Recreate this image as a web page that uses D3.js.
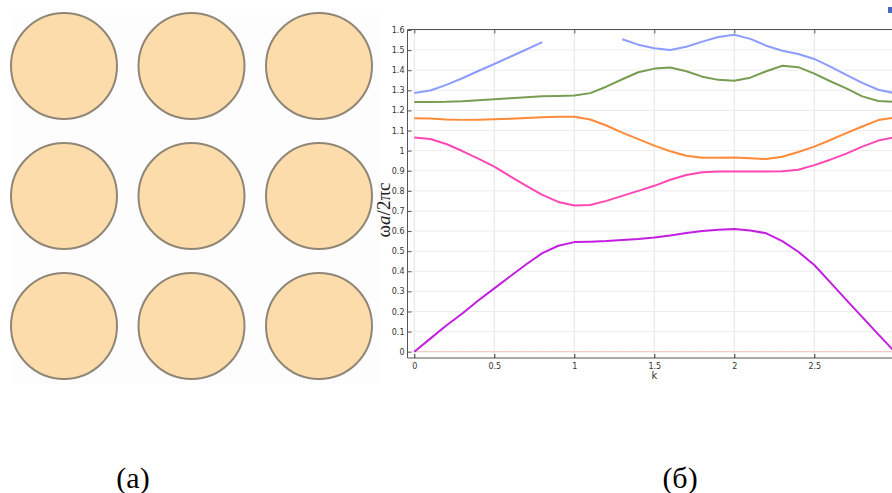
<!DOCTYPE html>
<html>
<head>
<meta charset="utf-8">
<script src="https://cdn.jsdelivr.net/npm/d3@7"></script>
<style>
  body { margin: 0; background: #fff; }
  svg { display: block; }
</style>
</head>
<body>
<svg id="fig" width="892" height="493"></svg>
<script>
// panel (a): 3x3 lattice of rods
let rodCols = [0, 1, 2]
let rodRows = [0, 1, 2]

// panel (б): band diagram, k from 0 to 3 step 0.1
let kValues = d3.range(0, 31).map(i => +(i / 10).toFixed(1))
let band1 = [0, 0.065, 0.13, 0.19, 0.255, 0.315, 0.375, 0.435, 0.49, 0.527, 0.545, 0.547, 0.55, 0.555, 0.56, 0.568, 0.578, 0.59, 0.6, 0.607, 0.61, 0.603, 0.589, 0.55, 0.497, 0.431, 0.345, 0.258, 0.172, 0.086, 0.002]
let band2 = [1.065, 1.058, 1.033, 0.998, 0.96, 0.92, 0.872, 0.825, 0.78, 0.745, 0.727, 0.73, 0.75, 0.775, 0.8, 0.825, 0.855, 0.879, 0.893, 0.896, 0.896, 0.896, 0.896, 0.897, 0.905, 0.928, 0.955, 0.985, 1.02, 1.05, 1.067]
let band3 = [1.161, 1.16, 1.155, 1.153, 1.154, 1.156, 1.159, 1.162, 1.166, 1.168, 1.169, 1.155, 1.125, 1.09, 1.057, 1.025, 0.997, 0.975, 0.965, 0.965, 0.966, 0.962, 0.958, 0.97, 0.993, 1.02, 1.053, 1.087, 1.12, 1.152, 1.164]
let band4 = [1.242, 1.242, 1.243, 1.246, 1.251, 1.256, 1.261, 1.266, 1.27, 1.272, 1.274, 1.286, 1.318, 1.355, 1.39, 1.408, 1.413, 1.395, 1.368, 1.352, 1.348, 1.363, 1.395, 1.422, 1.415, 1.383, 1.345, 1.31, 1.27, 1.247, 1.242]
let band5 = [1.287, 1.299, 1.327, 1.36, 1.396, 1.431, 1.467, 1.503, 1.54, null, null, null, null, 1.554, 1.527, 1.509, 1.501, 1.517, 1.542, 1.565, 1.576, 1.556, 1.522, 1.497, 1.481, 1.456, 1.418, 1.377, 1.337, 1.303, 1.286]
let band0 = kValues.map(() => 0)
let bandColors = ["#f3c4b8", "#c31ee0", "#ff48b4", "#ff8a38", "#789c52", "#8c9cff"]

let xTicks = [0, 0.5, 1, 1.5, 2, 2.5, 3]
let xTickLabels = ["0", "0.5", "1", "1.5", "2", "2.5", ""]   // the "3" falls past the right edge
let yTicks = d3.range(0, 17).map(i => +(i / 10).toFixed(1))

let svg = d3.select("#fig")

// ---------- (a) ----------
let colScale = d3.scaleLinear().domain([0, 2]).range([64, 319])
let rowScale = d3.scaleLinear().domain([0, 2]).range([66, 326])

let rods = []
rodRows.forEach(r => rodCols.forEach(c => rods.push({ r: r, c: c })))

svg.append("rect")
  .attr("x", 10).attr("y", 10).attr("width", 372).attr("height", 374)
  .attr("fill", "#fdfdfd")

svg.selectAll("circle.rod")
  .data(rods)
  .enter()
  .append("circle")
  .attr("class", "rod")
  .attr("cx", d => colScale(d.c))
  .attr("cy", d => rowScale(d.r))
  .attr("r", 53)
  .attr("fill", "#fddcac")
  .attr("stroke", "#8f8676")
  .attr("stroke-width", 2)

// ---------- (б) ----------
let xScale = d3.scaleLinear().domain([0, 3]).range([414.3, 894.3])
let yScale = d3.scaleLinear().domain([0, 1.6]).range([351.7, 30])
let axisLeft = 407.5
let axisBottom = 358
let axisTop = 29.5
let right = 892

let grid = svg.append("g")
grid.selectAll("line.gx")
  .data(xTicks)
  .enter()
  .append("line")
  .attr("x1", d => xScale(d)).attr("x2", d => xScale(d))
  .attr("y1", axisTop).attr("y2", axisBottom)
  .attr("stroke", "#e4e4e4").attr("stroke-width", 1)
grid.selectAll("line.gy")
  .data(yTicks)
  .enter()
  .append("line")
  .attr("x1", axisLeft).attr("x2", right)
  .attr("y1", d => yScale(d)).attr("y2", d => yScale(d))
  .attr("stroke", "#ececec").attr("stroke-width", 1)

// frame
svg.append("line").attr("x1", axisLeft).attr("x2", right).attr("y1", axisTop).attr("y2", axisTop)
  .attr("stroke", "#555").attr("stroke-width", 1)
svg.append("line").attr("x1", axisLeft).attr("x2", right).attr("y1", axisBottom).attr("y2", axisBottom)
  .attr("stroke", "#555").attr("stroke-width", 1)
svg.append("line").attr("x1", axisLeft).attr("x2", axisLeft).attr("y1", axisTop).attr("y2", axisBottom)
  .attr("stroke", "#555").attr("stroke-width", 1)

// y axis
let yAxis = d3.axisRight(yScale).tickValues(yTicks).tickSize(4).tickFormat(d => d === 0 || d === 1 ? d3.format("d")(d) : d3.format(".1f")(d))
let yAxisGroup = svg.append("g")
  .attr("transform", `translate(${axisLeft},0)`)
  .call(yAxis)
yAxisGroup.select(".domain").remove()
yAxisGroup.selectAll(".tick line").attr("stroke", "#555")
yAxisGroup.selectAll(".tick text")
  .attr("x", -3)
  .attr("text-anchor", "end")
  .attr("fill", "#333")
  .style("font-family", "DejaVu Sans, sans-serif")
  .style("font-size", "8px")

// x axis
let xAxis = d3.axisTop(xScale).tickValues(xTicks).tickSize(4).tickFormat((d, i) => xTickLabels[i])
let xAxisGroup = svg.append("g")
  .attr("transform", `translate(0,${axisBottom})`)
  .call(xAxis)
xAxisGroup.select(".domain").remove()
xAxisGroup.selectAll(".tick line").attr("stroke", "#333")
xAxisGroup.selectAll(".tick text")
  .attr("y", 11)
  .attr("dy", "0")
  .attr("fill", "#333")
  .style("font-family", "DejaVu Sans, sans-serif")
  .style("font-size", "8px")

let topTicks = svg.append("g")
  .attr("transform", `translate(0,${axisTop})`)
  .call(d3.axisBottom(xScale).tickValues(xTicks).tickSize(4).tickFormat(""))
topTicks.select(".domain").remove()
topTicks.selectAll(".tick line").attr("stroke", "#555")

// bands
let clip = svg.append("clipPath").attr("id", "plotclip")
clip.append("rect").attr("x", axisLeft).attr("y", axisTop).attr("width", right - axisLeft + 2).attr("height", axisBottom - axisTop)

let line = d3.line()
  .defined(d => d[1] !== null)
  .x(d => xScale(d[0]))
  .y(d => yScale(d[1]))

let bands = [band0, band1, band2, band3, band4, band5]
svg.append("g")
  .attr("clip-path", "url(#plotclip)")
  .selectAll("path.band")
  .data(bands)
  .enter()
  .append("path")
  .attr("class", "band")
  .attr("d", b => line(kValues.map((k, i) => [k, b[i]])))
  .attr("fill", "none")
  .attr("stroke", (b, i) => bandColors[i])
  .attr("stroke-width", (b, i) => i === 0 ? 1 : 2)
  .attr("stroke-linejoin", "round")

// legend swatch cut off at the edge
svg.append("rect").attr("x", 888).attr("y", 7).attr("width", 6).attr("height", 6).attr("fill", "#4a66c8")

// labels
svg.append("text")
  .attr("x", xScale(1.5)).attr("y", 379)
  .attr("text-anchor", "middle")
  .attr("fill", "#333")
  .style("font-family", "DejaVu Sans, sans-serif")
  .style("font-size", "10px")
  .text("k")

let yLabel = svg.append("text")
  .attr("transform", "translate(390,210) rotate(-90)")
  .attr("text-anchor", "middle")
  .attr("fill", "#222")
  .style("font-family", "Liberation Serif, serif")
  .style("font-size", "19px")
yLabel.append("tspan").text("ω")
yLabel.append("tspan").style("font-style", "italic").text("a")
yLabel.append("tspan").text("/2πc")

svg.append("text")
  .attr("x", 133).attr("y", 488)
  .attr("text-anchor", "middle")
  .style("font-family", "Liberation Serif, serif")
  .style("font-size", "30px")
  .text("(a)")
svg.append("text")
  .attr("x", 680).attr("y", 488)
  .attr("text-anchor", "middle")
  .style("font-family", "Liberation Serif, serif")
  .style("font-size", "30px")
  .text("(б)")
</script>
</body>
</html>
